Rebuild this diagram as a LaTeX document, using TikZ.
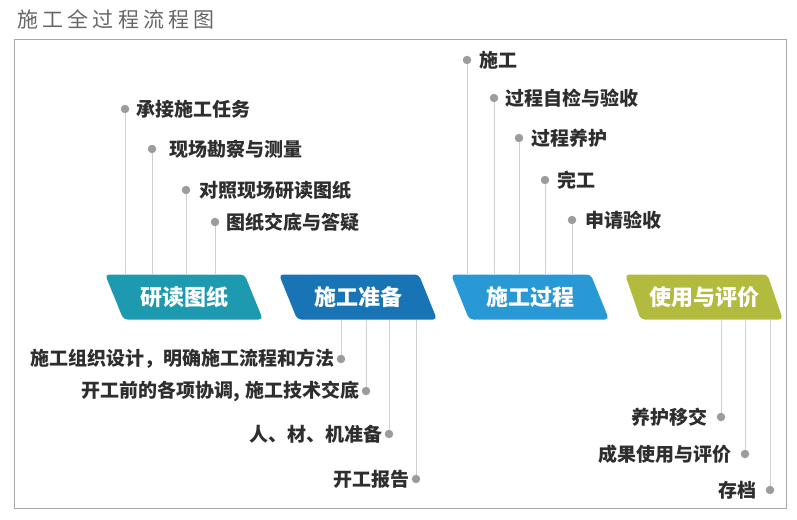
\documentclass[tikz,border=0pt]{standalone}
\usepackage{fontspec}
\setmainfont{Noto Sans CJK SC}
\newfontfamily\titlefont[LetterSpace=20]{Noto Sans CJK SC}
\usetikzlibrary{positioning,shapes.geometric}
\definecolor{readc}{HTML}{1E9AB0}
\definecolor{prepc}{HTML}{1874B4}
\definecolor{procc}{HTML}{2999D6}
\definecolor{usec}{HTML}{B3BB3E}
\definecolor{dotgray}{HTML}{9C9C9C}
\definecolor{linegray}{HTML}{CFCFCF}
\definecolor{framegray}{HTML}{A8A8A8}
\begin{document}
\begin{tikzpicture}[x=1pt, y=-1pt,
	dotn/.style={circle, fill=dotgray, inner sep=0pt, minimum size=8.5pt},
	item/.style={font=\fontsize{19}{19}\selectfont\bfseries, text=black!82, inner sep=1pt},
	stage/.style={trapezium, trapezium left angle=117, trapezium right angle=63,
		trapezium stretches=true, minimum width=158pt, minimum height=45pt,
		rounded corners=4pt, text=white, font=\fontsize{22}{22}\selectfont\bfseries},
	link/.style={draw=linegray, line width=0.8pt}]
	\useasboundingbox (0,0) rectangle (797,519);
	
	%title and frame
	\node[anchor=west, inner sep=0pt, text=black!60, font=\titlefont\fontsize{21}{21}\selectfont] (title) at (17,19) {施工全过程流程图};
	\draw[framegray, line width=1pt] (14,40) rectangle (786,508);
	
	%stages
	\node[stage, fill=readc] (read) at (184,297) {研读图纸};
	\node[stage, fill=prepc] (prep) at (358,297) {施工准备};
	\node[stage, fill=procc] (proc) at (530,297) {施工过程};
	\node[stage, fill=usec] (use) at (704,297) {使用与评价};
	
	%items above read
	\node[dotn] (r1) at (125,109) {};
	\node[dotn] (r2) at (152,149) {};
	\node[dotn] (r3) at (186,190) {};
	\node[dotn] (r4) at (215,222) {};
	\node[item, right=6pt of r1] {承接施工任务};
	\node[item, right=12pt of r2] {现场勘察与测量};
	\node[item, right=8pt of r3] {对照现场研读图纸};
	\node[item, right=6pt of r4] {图纸交底与答疑};
	
	%items above proc
	\node[dotn] (c1) at (467,60) {};
	\node[dotn] (c2) at (494,98) {};
	\node[dotn] (c3) at (519,138) {};
	\node[dotn] (c4) at (545,180) {};
	\node[dotn] (c5) at (572,220) {};
	\node[item, right=7pt of c1] {施工};
	\node[item, right=6pt of c2] {过程自检与验收};
	\node[item, right=7pt of c3] {过程养护};
	\node[item, right=7pt of c4] {完工};
	\node[item, right=8pt of c5] {申请验收};
	
	%items below prep
	\node[dotn] (p1) at (341,359) {};
	\node[dotn] (p2) at (366,391) {};
	\node[dotn] (p3) at (389,434) {};
	\node[dotn] (p4) at (416,479) {};
	\node[item, left=1pt of p1] {施工组织设计，明确施工流程和方法};
	\node[item, left=1pt of p2] {开工前的各项协调,\hspace{5pt}施工技术交底};
	\node[item, left=1pt of p3] {人、材、机准备};
	\node[item, left=1pt of p4] {开工报告};
	
	%items below use
	\node[dotn] (u1) at (721,417) {};
	\node[dotn] (u2) at (745,454) {};
	\node[dotn] (u3) at (770,490) {};
	\node[item, left=8pt of u1] {养护移交};
	\node[item, left=8pt of u2] {成果使用与评价};
	\node[item, left=8pt of u3] {存档};
	
	%links
	\foreach \d in {r1,r2,r3,r4}
		\draw[link] (\d) -- (\d |- read.north);
	\foreach \d in {c1,c2,c3,c4,c5}
		\draw[link] (\d) -- (\d |- proc.north);
	\foreach \d in {p1,p2,p3,p4}
		\draw[link] (\d) -- (\d |- prep.south);
	\foreach \d in {u1,u2,u3}
		\draw[link] (\d) -- (\d |- use.south);
\end{tikzpicture}
\end{document}
